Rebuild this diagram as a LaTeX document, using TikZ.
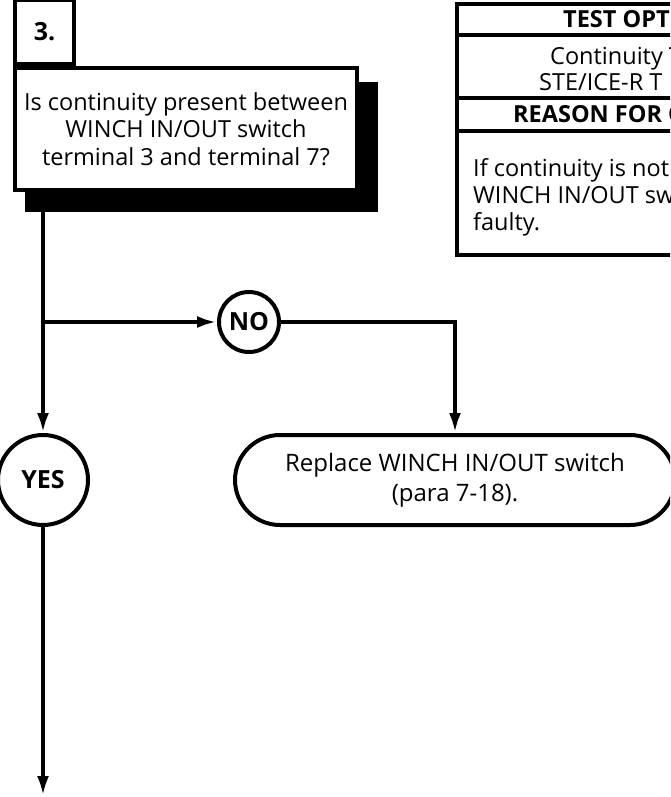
\documentclass[tikz,border=0pt]{standalone}
\usepackage{fontspec}
\setmainfont{Open Sans}
\usetikzlibrary{arrows.meta,shapes.misc}

\tikzset{
  flow/.style={line width=4pt, -{Latex[length=20pt,width=12pt]}},
  answer/.style={draw, circle, line width=4pt, inner sep=0pt, font=\fontsize{25}{28}\selectfont\bfseries},
  quest/.style={draw, fill=white, line width=4pt, align=center, inner sep=0pt},
  action/.style={draw, rounded rectangle, line width=4pt, align=center, inner sep=0pt},
  tabtext/.style={anchor=base west, inner sep=0pt, font=\fontsize{23.5}{27}\selectfont},
}

\begin{document}
\begin{tikzpicture}[x=1pt, y=-1pt, font=\fontsize{23.5}{27.5}\selectfont]
    % Page
    \useasboundingbox (0,0) rectangle (670,797);
    \clip (0,0) rectangle (670,797);

    % Question box and its shadow
    \fill (25,82) rectangle (378,212);
    \node[quest, minimum width=342pt, minimum height=122pt] (question) at (186,129)
        {Is continuity present between\\WINCH IN/OUT switch\\terminal 3 and terminal 7?};
    \node[quest, minimum width=59pt, minimum height=64pt, anchor=south west,
          font=\fontsize{25}{28}\selectfont\bfseries] (stepno) at (question.north west) {3.};

    % Answers
    \node[answer, minimum size=90pt] (yes) at (43,480) {YES};
    \node[answer, minimum size=60pt] (no) at (249,322) {NO};

    % Action
    \node[action, minimum width=440pt, minimum height=90pt, font=\fontsize{24}{30}\selectfont]
        (replace) at (455,480) {Replace WINCH IN/OUT switch\\(para 7-18).};

    % Connectors
    \coordinate (split) at (yes |- no);
    \coordinate (bottom) at (43,796);
    \draw[flow] (question.south -| yes) -- (yes.north);
    \draw[flow] (split) -- (no.west);
    \draw[flow] (no.east) -| (replace.north);
    \draw[flow] (yes.south) -- (bottom);

    % Test options table
    \draw[line width=4pt] (457,4) rectangle (800,255);
    \draw[line width=4pt] (457,35) -- (800,35);
    \draw[line width=4pt] (457,98) -- (800,98);
    \draw[line width=4pt] (457,131) -- (800,131);
    \node[tabtext, font=\fontsize{23.5}{27}\selectfont\bfseries] (optitle) at (563,28) {TEST OPT};
    \node[tabtext] (opt1) at (550,65) {Continuity T};
    \node[tabtext] (opt2) at (539,91) {STE/ICE-R T};
    \node[tabtext, font=\fontsize{23.5}{27}\selectfont\bfseries] (reatitle) at (513,122) {REASON FOR Q};
    \node[tabtext] (rea1) at (473,176) {If continuity is not};
    \node[tabtext] (rea2) at (473,203) {WINCH IN/OUT sw};
    \node[tabtext] (rea3) at (473,230) {faulty.};
\end{tikzpicture}
\end{document}
